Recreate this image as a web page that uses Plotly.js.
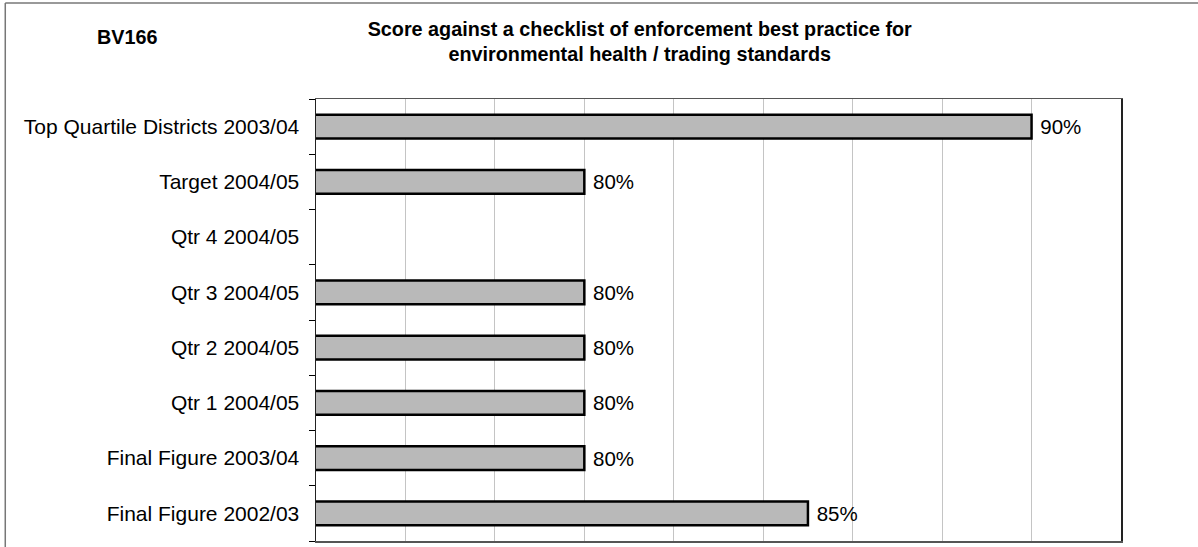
<!DOCTYPE html>
<html>
<head>
<meta charset="utf-8">
<script src="https://cdn.plot.ly/plotly-3.0.1.min.js"></script>
<style>html,body{margin:0;padding:0;background:#fff;}#chart{width:1198px;height:547px;}</style>
</head>
<body>
<div id="chart"></div>
<script>
const categories = [
  "Final Figure 2002/03",
  "Final Figure 2003/04",
  "Qtr 1 2004/05",
  "Qtr 2 2004/05",
  "Qtr 3 2004/05",
  "Qtr 4 2004/05",
  "Target 2004/05",
  "Top Quartile Districts 2003/04"
];
const scores = [85, 80, 80, 80, 80, null, 80, 90];
const labels = scores.map(v => v === null ? "" : " " + v + "%");

const trace = {
  type: "bar",
  orientation: "h",
  y: categories,
  x: scores,
  base: 0,
  text: labels,
  textposition: "outside",
  cliponaxis: false,
  textfont: {family: "Liberation Sans, Arial, sans-serif", size: 20.5, color: "#000"},
  marker: {color: "#b9b9b9", line: {color: "#000", width: 2.5}},
  hoverinfo: "skip"
};

const layout = {
  width: 1198, height: 547,
  margin: {l: 316, r: 77, t: 99, b: 6},
  paper_bgcolor: "#fff", plot_bgcolor: "#fff",
  bargap: 0.57,
  showlegend: false,
  font: {family: "Liberation Sans, Arial, sans-serif", color: "#000"},
  title: {
    text: "<b>Score against a checklist of enforcement best practice for<br>environmental health / trading standards</b>",
    x: 0.534, xanchor: "center", xref: "container", y: 0.935, yanchor: "top",
    font: {size: 19.8, color: "#000"}
  },
  xaxis: {
    range: [74, 92], dtick: 2, tick0: 74,
    showticklabels: false, ticks: "",
    showgrid: true, gridcolor: "#c4c4c4", gridwidth: 1,
    zeroline: false,
    showline: true, linecolor: "#555", linewidth: 1.5, mirror: true
  },
  yaxis: {
    type: "category",
    categoryorder: "array", categoryarray: categories,
    ticks: "outside", tickson: "boundaries", ticklen: 6, tickcolor: "#000",
    ticklabelstandoff: 11,
    tickfont: {size: 21, color: "#000"},
    showline: true, linecolor: "#222", linewidth: 1.5, mirror: true,
    showgrid: false, zeroline: false, automargin: false
  },
  annotations: [{
    text: "<b>BV166</b>", xref: "paper", yref: "paper",
    x: -0.2745, y: 1.140, xanchor: "left", yanchor: "middle",
    showarrow: false, font: {size: 19.8, color: "#000"}
  }],
  shapes: [
    {type: "line", xref: "paper", yref: "paper", x0: -0.386, x1: -0.386, y0: -0.02, y1: 1.217, line: {color: "#777", width: 1.5}},
    {type: "line", xref: "paper", yref: "paper", x0: -0.386, x1: 1.1, y0: 1.217, y1: 1.217, line: {color: "#777", width: 1.5}}
  ]
};

Plotly.newPlot("chart", [trace], layout, {displayModeBar: false, staticPlot: true});
</script>
</body>
</html>
